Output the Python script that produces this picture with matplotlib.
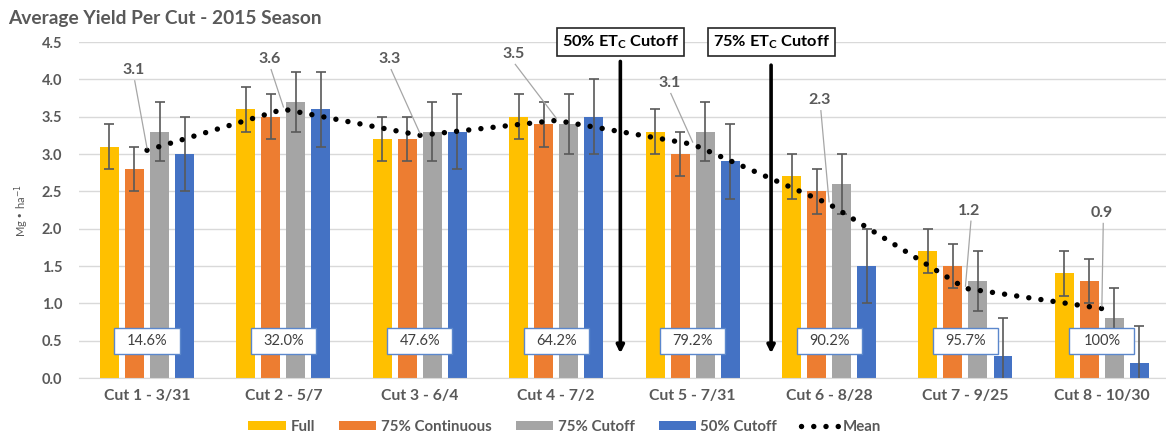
import numpy as np
import matplotlib
matplotlib.use("Agg")
import matplotlib.pyplot as plt
from matplotlib.patches import Rectangle, Patch
from matplotlib.lines import Line2D

plt.rcParams['font.family'] = ['Lato', 'DejaVu Sans']

# ---------------- data ----------------
categories = ["Cut 1 - 3/31", "Cut 2 - 5/7", "Cut 3 - 6/4", "Cut 4 - 7/2",
              "Cut 5 - 7/31", "Cut 6 - 8/28", "Cut 7 - 9/25", "Cut 8 - 10/30"]
series_names = ["Full", "75% Continuous", "75% Cutoff", "50% Cutoff"]
full = [3.1, 3.6, 3.2, 3.5, 3.3, 2.7, 1.7, 1.4]
cont75 = [2.8, 3.5, 3.2, 3.4, 3.0, 2.5, 1.5, 1.3]
cutoff75 = [3.3, 3.7, 3.3, 3.4, 3.3, 2.6, 1.3, 0.8]
cutoff50 = [3.0, 3.6, 3.3, 3.5, 2.9, 1.5, 0.3, 0.2]
err_full = [0.3] * 8
err_cont75 = [0.3] * 8
err_cutoff75 = [0.4] * 8
err_cutoff50 = [0.5] * 8
mean_yield = [3.05, 3.60, 3.25, 3.45, 3.13, 2.33, 1.20, 0.93]
mean_labels = ["3.1", "3.6", "3.3", "3.5", "3.1", "2.3", "1.2", "0.9"]
pct_labels = ["14.6%", "32.0%", "47.6%", "64.2%", "79.2%", "90.2%", "95.7%", "100%"]
cutoff_texts = ["50% ET$_\\mathregular{C}$ Cutoff", "75% ET$_\\mathregular{C}$ Cutoff"]
yticks = [0.0, 0.5, 1.0, 1.5, 2.0, 2.5, 3.0, 3.5, 4.0, 4.5]

# ---------------- style ----------------
colors = ["#FFC000", "#ED7D31", "#A5A5A5", "#4472C4"]
txt_gray = "#595959"
W, H = 1166, 438

fig = plt.figure(figsize=(W / 100, H / 100), dpi=100)
ax = fig.add_axes([79 / W, 60 / H, (W - 79) / W, 336 / H])

x = np.arange(len(categories))
pitch = 0.1833
bw = 0.139
series = [full, cont75, cutoff75, cutoff50]
errs = [err_full, err_cont75, err_cutoff75, err_cutoff50]
for i, (vals, e, c) in enumerate(zip(series, errs, colors)):
    ax.bar(x + (i - 1.5) * pitch, vals, width=bw, color=c, zorder=2,
           yerr=e, error_kw=dict(ecolor="#595959", elinewidth=1.2, capsize=3.5,
                                 capthick=1.2, zorder=3))

# mean line
ax.plot(x, mean_yield, color="black", lw=3.9, dashes=(0.01, 2.25),
        dash_capstyle="round", zorder=4)

# mean labels with leader lines (offsets in data units)
label_off = [(-0.10, 1.07), (-0.10, 0.67), (-0.22, 1.02), (-0.31, 0.89),
             (-0.17, 0.82), (-0.07, 1.39), (0.03, 1.04), (0.0, 1.28)]
for xi, m, lab, (dx, dy) in zip(x, mean_yield, mean_labels, label_off):
    tx, ty = xi + dx, m + dy
    ax.plot([tx + 0.01, xi], [ty - 0.14, m + 0.03], color="#A6A6A6", lw=0.9,
            zorder=5, clip_on=False)
    ax.text(tx, ty, lab, ha="center", va="center", fontsize=11.5,
            fontweight="bold", color=txt_gray, zorder=6)

# percent boxes
bx_w, bx_h = 0.477, 0.348
for xi, lab in zip(x, pct_labels):
    ax.add_patch(Rectangle((xi - bx_w / 2, 0.5 - bx_h / 2), bx_w, bx_h,
                           facecolor="white", edgecolor="#5B87CC", lw=1.0,
                           zorder=7))
    ax.text(xi, 0.5, lab, ha="center", va="center", fontsize=10.5,
            color="#404040", zorder=8)

# cutoff arrows and boxes
cutoff_pos = [3.47, 4.575]
arrow_top = [4.24, 4.19]
for cx, top, t in zip(cutoff_pos, arrow_top, cutoff_texts):
    ax.annotate("", xy=(cx, 0.33), xytext=(cx, top),
                arrowprops=dict(arrowstyle="-|>", lw=2.6, color="black",
                                mutation_scale=11, shrinkA=0, shrinkB=0),
                zorder=6)
    ax.add_patch(Rectangle((cx - 0.465, 4.5 - 0.19), 0.93, 0.38,
                           facecolor="white", edgecolor="#262626", lw=1.2,
                           zorder=9, clip_on=False))
    ax.text(cx, 4.5, t, ha="center", va="center", fontsize=11.8,
            fontweight="bold", color="black", zorder=10)

# axes styling
ax.set_xlim(-0.4985, 7.47)
ax.set_ylim(0, 4.5)
ax.set_yticks(yticks)
ax.set_yticklabels([f"{v:.1f}" for v in yticks])
ax.set_xticks(x)
ax.set_xticklabels(categories)
ax.grid(axis="y", color="#D9D9D9", lw=1.0, zorder=0)
ax.set_axisbelow(True)
for s in ["top", "right", "left"]:
    ax.spines[s].set_visible(False)
ax.spines["bottom"].set_color("#D9D9D9")
ax.tick_params(axis="y", length=0, pad=12, labelsize=10.5, labelcolor=txt_gray)
ax.tick_params(axis="x", length=0, pad=8, labelsize=11.3, labelcolor=txt_gray)
for lab in ax.get_yticklabels() + ax.get_xticklabels():
    lab.set_fontweight("bold")

# title & y label
fig.text(8 / W, 1 - 18.5 / H, "Average Yield Per Cut - 2015 Season", ha="left",
         va="center", fontsize=13.8, fontweight="bold", color=txt_gray)
fig.text(22 / W, 1 - 211 / H, "Mg • ha$^{-1}$", rotation=90, ha="center",
         va="center", fontsize=8, color=txt_gray)

# legend
handles = [Patch(facecolor=c, edgecolor="none") for c in colors]
handles.append(Line2D([0], [0], color="black", lw=3.9, dashes=(0.01, 2.25),
                      dash_capstyle="round"))
leg = fig.legend(handles, series_names + ["Mean"], loc="center",
                 bbox_to_anchor=(565 / W, 1 - 427 / H), ncol=5, frameon=False,
                 fontsize=10.8, handlelength=2.5, handleheight=0.6,
                 handletextpad=0.3, columnspacing=1.6)
for t in leg.get_texts():
    t.set_color(txt_gray)
    t.set_fontweight("bold")

fig.savefig("out.png", dpi=100)
